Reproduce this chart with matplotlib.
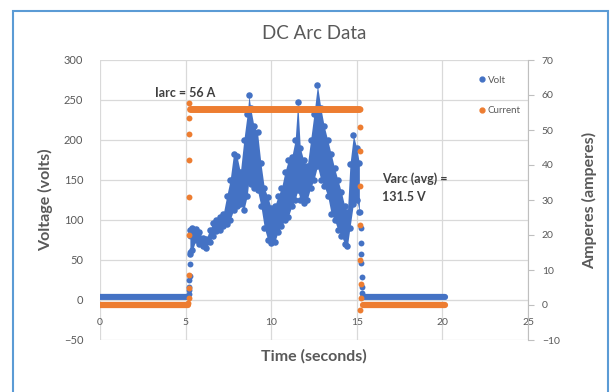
import matplotlib
matplotlib.use('Agg')
import matplotlib.pyplot as plt
from matplotlib.lines import Line2D
from matplotlib.patches import Rectangle

# voltage cloud during the arc: lower and upper edge
arc_time = [5.25, 5.4, 5.6, 5.8, 6.0, 6.2, 6.4, 6.6, 6.8, 7.0,
            7.2, 7.4, 7.6, 7.8, 8.0, 8.2, 8.4, 8.6, 8.7, 8.8,
            9.0, 9.2, 9.4, 9.6, 9.8, 10.0, 10.2, 10.4, 10.6, 10.8,
            11.0, 11.2, 11.4, 11.55, 11.7, 11.9, 12.1, 12.3, 12.5, 12.7,
            12.9, 13.1, 13.3, 13.5, 13.7, 13.9, 14.1, 14.3, 14.45, 14.6,
            14.8, 15.0, 15.15]
volt_low = [58, 62, 75, 70, 67, 65, 72, 80, 86, 88,
            92, 95, 100, 112, 117, 120, 112, 130, 150, 145,
            140, 137, 117, 90, 75, 71, 72, 85, 92, 100,
            104, 117, 125, 137, 125, 121, 125, 140, 150, 167,
            150, 142, 130, 108, 100, 87, 80, 70, 67, 90,
            120, 125, 110]
volt_high = [88, 90, 89, 85, 78, 76, 88, 96, 100, 104,
             108, 130, 150, 183, 180, 160, 200, 233, 256, 240,
             217, 210, 171, 140, 129, 115, 117, 130, 140, 160,
             175, 179, 200, 248, 190, 175, 167, 200, 233, 269,
             240, 217, 200, 183, 165, 150, 135, 117, 110, 170,
             206, 190, 171]

# arc off: two idle stretches
idle_start = [0.0, 15.35]
idle_end = [5.15, 20.15]
idle_volt = 4
idle_amp = 0

# switching points
rise_time_v = [5.18, 5.2, 5.21, 5.22, 5.23, 5.24, 5.25, 5.26]
rise_volt = [8, 12, 16, 25, 30, 45, 60, 80]
fall_time_v = [15.2, 15.22, 15.24, 15.25, 15.26, 15.28, 15.3, 15.32]
fall_volt = [110, 90, 71, 58, 46, 29, 16, 9]

arc_amp_start = 5.25
arc_amp_end = 15.15
arc_amp = 56
rise_time_a = [5.15, 5.17, 5.2, 5.2, 5.2, 5.2, 5.2, 5.2, 5.2, 5.22]
rise_amp = [0.5, 2, 5, 8.6, 20, 31, 41.4, 49, 53.4, 57.7]
fall_time_a = [15.18, 15.2, 15.2, 15.2, 15.2, 15.2, 15.22, 15.24, 15.2]
fall_amp = [56, 51, 44, 34, 23, 13, 6, 2, -1.5]

blue = '#4472C4'
orange = '#ED7D31'
grey = '#595959'
grid = '#D9D9D9'
plt.rcParams['font.family'] = ['Lato', 'DejaVu Sans']

fig = plt.figure(figsize=(6.13, 3.92), dpi=100)
ax = fig.add_axes([100 / 613, 52 / 392, 428 / 613, 280 / 392])
ax2 = ax.twinx()

# voltage
ax.fill_between(arc_time, volt_low, volt_high, color=blue, lw=0)
ax.scatter(arc_time, volt_low, s=22, color=blue, lw=0)
ax.scatter(arc_time, volt_high, s=22, color=blue, lw=0)
for a, b in zip(idle_start, idle_end):
    ax.plot([a, b], [idle_volt, idle_volt], color=blue, lw=4.5,
            solid_capstyle='round')
ax.scatter(rise_time_v, rise_volt, s=18, color=blue, lw=0)
ax.scatter(fall_time_v, fall_volt, s=18, color=blue, lw=0)

# current
ax2.plot([arc_amp_start, arc_amp_end], [arc_amp, arc_amp], color=orange,
         lw=5, solid_capstyle='round')
for a, b in zip(idle_start, idle_end):
    ax2.plot([a, b], [idle_amp, idle_amp], color=orange, lw=4.5,
             solid_capstyle='round')
ax2.scatter(rise_time_a, rise_amp, s=18, color=orange, lw=0)
ax2.scatter(fall_time_a, fall_amp, s=18, color=orange, lw=0)

ax.set_xlim(0, 25)
ax.set_ylim(-50, 300)
ax2.set_ylim(-10, 70)
ax.set_xticks(range(0, 26, 5))
ax.set_yticks(range(-50, 301, 50))
ax2.set_yticks(range(-10, 71, 10))
ax.grid(True, color=grid, lw=0.9)
ax.set_axisbelow(True)

for s in ['top', 'right', 'left']:
    ax.spines[s].set_visible(False)
ax.spines['bottom'].set_position(('data', 0))
ax.spines['bottom'].set_color(grid)
for s in ['top', 'left', 'bottom']:
    ax2.spines[s].set_visible(False)
ax2.spines['right'].set_color('#BFBFBF')

ax.tick_params(axis='y', length=0, pad=12, labelsize=8, labelcolor=grey)
ax.tick_params(axis='x', length=0, pad=13, labelsize=7.5, labelcolor=grey)
ax2.tick_params(axis='y', length=4, color='#BFBFBF', pad=6, labelsize=7.5,
                labelcolor=grey)

ax.set_title('DC Arc Data', fontsize=13.5, color=grey, pad=15)
ax.set_xlabel('Time (seconds)', fontsize=11.5, color=grey, fontweight='bold')
ax.xaxis.set_label_coords(0.5, -0.057)
ax.xaxis.label.set_va('center')
ax.set_ylabel('Voltage (volts)', fontsize=11.5, color=grey, fontweight='bold')
ax.yaxis.set_label_coords(-0.128, 0.5)
ax.yaxis.label.set_va('center')
ax2.set_ylabel('Amperes (amperes)', fontsize=11.5, color=grey, fontweight='bold')
ax2.yaxis.set_label_coords(1.145, 0.5)
ax2.yaxis.label.set_va('center')

ax.text(5.0, 259, 'Iarc = 56 A', fontsize=9, fontweight='bold',
        color='#404040', ha='center', va='center')
ax.text(16.45, 140, 'Varc (avg) =\n131.5 V', fontsize=9, fontweight='bold',
        color='#404040', ha='left', va='center', linespacing=1.6)

handles = [Line2D([], [], ls='', marker='o', ms=3.5, color=blue),
           Line2D([], [], ls='', marker='o', ms=3.5, color=orange)]
ax2.legend(handles, ['Volt', 'Current'], loc='upper left',
           bbox_to_anchor=(0.865, 0.975), frameon=False, fontsize=7,
           labelspacing=2.2, handlelength=0.6, handletextpad=0.3,
           labelcolor=grey)

fig.add_artist(Rectangle((13 / 613, -0.1), 595 / 613, 1.1 - 11 / 392,
                         transform=fig.transFigure, fill=False,
                         edgecolor='#5B9BD5', lw=1.5))

fig.savefig('out.png', dpi=100)
